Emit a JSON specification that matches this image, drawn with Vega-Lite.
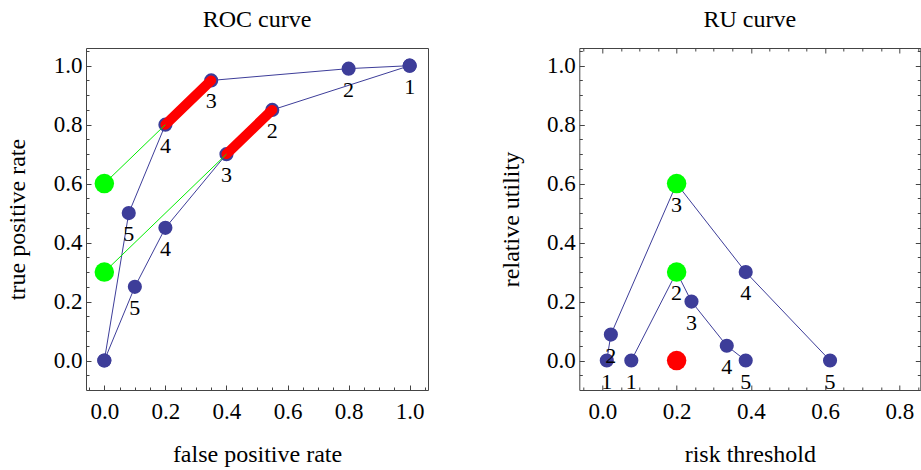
{
  "$schema": "https://vega.github.io/schema/vega-lite/v6.json",
  "padding": {"left": 5, "top": 7, "right": 0, "bottom": 0},
  "spacing": 69.3,
  "datasets": {
    "roc": [
      {"curve": "A", "ord": 1, "x": 1.0, "y": 1.0, "label": "1"},
      {"curve": "A", "ord": 2, "x": 0.8, "y": 0.99, "label": "2"},
      {"curve": "A", "ord": 3, "x": 0.35, "y": 0.95, "label": "3"},
      {"curve": "A", "ord": 4, "x": 0.2, "y": 0.8, "label": "4"},
      {"curve": "A", "ord": 5, "x": 0.08, "y": 0.5, "label": "5"},
      {"curve": "A", "ord": 6, "x": 0.0, "y": 0.0, "label": ""},
      {"curve": "B", "ord": 1, "x": 1.0, "y": 1.0, "label": ""},
      {"curve": "B", "ord": 2, "x": 0.55, "y": 0.85, "label": "2"},
      {"curve": "B", "ord": 3, "x": 0.4, "y": 0.7, "label": "3"},
      {"curve": "B", "ord": 4, "x": 0.2, "y": 0.45, "label": "4"},
      {"curve": "B", "ord": 5, "x": 0.1, "y": 0.25, "label": "5"},
      {"curve": "B", "ord": 6, "x": 0.0, "y": 0.0, "label": ""}
    ],
    "rocRed": [
      {"seg": "A", "x": 0.2, "y": 0.8},
      {"seg": "A", "x": 0.35, "y": 0.95},
      {"seg": "B", "x": 0.4, "y": 0.7},
      {"seg": "B", "x": 0.55, "y": 0.85}
    ],
    "rocGreenLine": [
      {"seg": "A", "x": 0.0, "y": 0.6},
      {"seg": "A", "x": 0.2, "y": 0.8},
      {"seg": "B", "x": 0.0, "y": 0.3},
      {"seg": "B", "x": 0.4, "y": 0.7}
    ],
    "rocGreenPts": [
      {"x": 0.0, "y": 0.6},
      {"x": 0.0, "y": 0.3}
    ],
    "ru": [
      {"curve": "A", "ord": 1, "x": 0.012, "y": 0.0, "label": "1"},
      {"curve": "A", "ord": 2, "x": 0.023, "y": 0.088, "label": "2"},
      {"curve": "A", "ord": 3, "x": 0.2, "y": 0.6, "label": "3"},
      {"curve": "A", "ord": 4, "x": 0.386, "y": 0.3, "label": "4"},
      {"curve": "A", "ord": 5, "x": 0.613, "y": 0.0, "label": "5"},
      {"curve": "B", "ord": 1, "x": 0.078, "y": 0.0, "label": "1"},
      {"curve": "B", "ord": 2, "x": 0.2, "y": 0.3, "label": "2"},
      {"curve": "B", "ord": 3, "x": 0.24, "y": 0.2, "label": "3"},
      {"curve": "B", "ord": 4, "x": 0.335, "y": 0.05, "label": "4"},
      {"curve": "B", "ord": 5, "x": 0.386, "y": 0.0, "label": "5"}
    ],
    "ruGreen": [
      {"x": 0.2, "y": 0.6},
      {"x": 0.2, "y": 0.3}
    ],
    "ruRed": [
      {"x": 0.2, "y": 0.0}
    ]
  },
  "hconcat": [
    {
      "title": {"text": "ROC curve", "frame": "group", "baseline": "alphabetic", "offset": -3},
      "width": 342,
      "height": 342,
      "resolve": {"axis": {"x": "independent", "y": "independent"}},
      "layer": [
        {
          "data": {"name": "roc"},
          "mark": {"type": "line", "color": "#3d3d99", "strokeWidth": 1},
          "encoding": {
            "x": {"field": "x", "type": "quantitative", "scale": {"domain": [-0.06, 1.06], "nice": false, "zero": false},
                  "axis": {"orient": "bottom", "values": [0, 0.2, 0.4, 0.6, 0.8, 1.0], "format": ".1f", "title": "false positive rate", "tickSize": -5, "labelPadding": 15.5, "titlePadding": 19}},
            "y": {"field": "y", "type": "quantitative", "scale": {"domain": [-0.1, 1.06], "nice": false, "zero": false},
                  "axis": {"orient": "left", "values": [0, 0.2, 0.4, 0.6, 0.8, 1.0], "format": ".1f", "title": "true positive rate", "tickSize": -5, "labelPadding": 9, "titlePadding": 23.5}},
            "detail": {"field": "curve"},
            "order": {"field": "ord", "type": "quantitative"}
          }
        },
        {
          "data": {"name": "roc"},
          "mark": {"type": "circle", "color": "#3d3d99", "size": 200, "opacity": 1},
          "encoding": {
            "x": {"field": "x", "type": "quantitative", "axis": null},
            "y": {"field": "y", "type": "quantitative", "axis": null}
          }
        },
        {
          "data": {"name": "rocRed"},
          "mark": {"type": "line", "color": "#ff0000", "strokeWidth": 10, "strokeCap": "round"},
          "encoding": {
            "x": {"field": "x", "type": "quantitative", "axis": null},
            "y": {"field": "y", "type": "quantitative", "axis": null},
            "detail": {"field": "seg"}
          }
        },
        {
          "data": {"name": "rocGreenLine"},
          "mark": {"type": "line", "color": "#00ee00", "strokeWidth": 1},
          "encoding": {
            "x": {"field": "x", "type": "quantitative", "axis": null},
            "y": {"field": "y", "type": "quantitative", "axis": null},
            "detail": {"field": "seg"}
          }
        },
        {
          "data": {"name": "rocGreenPts"},
          "mark": {"type": "circle", "color": "#00ff00", "size": 380, "opacity": 1},
          "encoding": {
            "x": {"field": "x", "type": "quantitative", "axis": null},
            "y": {"field": "y", "type": "quantitative", "axis": null}
          }
        },
        {
          "data": {"name": "roc"},
          "mark": {"type": "text", "dy": 21, "fontSize": 22, "color": "black", "align": "center", "baseline": "middle", "font": "Liberation Serif"},
          "encoding": {
            "x": {"field": "x", "type": "quantitative", "axis": null},
            "y": {"field": "y", "type": "quantitative", "axis": null},
            "text": {"field": "label"}
          }
        },
        {
          "data": {"name": "roc"},
          "mark": {"type": "circle", "opacity": 0},
          "encoding": {
            "x": {"field": "x", "type": "quantitative",
                  "axis": {"orient": "bottom", "values": [-0.05, 0.05, 0.1, 0.15, 0.25, 0.3, 0.35, 0.45, 0.5, 0.55, 0.65, 0.7, 0.75, 0.85, 0.9, 0.95, 1.05], "labels": false, "title": null, "tickSize": -3}},
            "y": {"field": "y", "type": "quantitative",
                  "axis": {"orient": "left", "values": [-0.05, 0.05, 0.1, 0.15, 0.25, 0.3, 0.35, 0.45, 0.5, 0.55, 0.65, 0.7, 0.75, 0.85, 0.9, 0.95, 1.05], "labels": false, "title": null, "tickSize": -3}}
          }
        }
      ]
    },
    {
      "title": {"text": "RU curve", "frame": "group", "baseline": "alphabetic", "offset": -3},
      "width": 341,
      "height": 342,
      "resolve": {"axis": {"x": "independent", "y": "independent"}},
      "layer": [
        {
          "data": {"name": "ru"},
          "mark": {"type": "line", "color": "#3d3d99", "strokeWidth": 1},
          "encoding": {
            "x": {"field": "x", "type": "quantitative", "scale": {"domain": [-0.062, 0.856], "nice": false, "zero": false},
                  "axis": {"orient": "bottom", "values": [0, 0.2, 0.4, 0.6, 0.8], "format": ".1f", "title": "risk threshold", "tickSize": -5, "labelPadding": 15.5, "titlePadding": 19}},
            "y": {"field": "y", "type": "quantitative", "scale": {"domain": [-0.1, 1.06], "nice": false, "zero": false},
                  "axis": {"orient": "left", "values": [0, 0.2, 0.4, 0.6, 0.8, 1.0], "format": ".1f", "title": "relative utility", "tickSize": -5, "labelPadding": 9, "titlePadding": 23.5}},
            "detail": {"field": "curve"},
            "order": {"field": "ord", "type": "quantitative"}
          }
        },
        {
          "data": {"name": "ru"},
          "mark": {"type": "circle", "color": "#3d3d99", "size": 200, "opacity": 1},
          "encoding": {
            "x": {"field": "x", "type": "quantitative", "axis": null},
            "y": {"field": "y", "type": "quantitative", "axis": null}
          }
        },
        {
          "data": {"name": "ruGreen"},
          "mark": {"type": "circle", "color": "#00ff00", "size": 380, "opacity": 1},
          "encoding": {
            "x": {"field": "x", "type": "quantitative", "axis": null},
            "y": {"field": "y", "type": "quantitative", "axis": null}
          }
        },
        {
          "data": {"name": "ruRed"},
          "mark": {"type": "circle", "color": "#ff0000", "size": 380, "opacity": 1},
          "encoding": {
            "x": {"field": "x", "type": "quantitative", "axis": null},
            "y": {"field": "y", "type": "quantitative", "axis": null}
          }
        },
        {
          "data": {"name": "ru"},
          "mark": {"type": "text", "dy": 21, "fontSize": 22, "color": "black", "align": "center", "baseline": "middle", "font": "Liberation Serif"},
          "encoding": {
            "x": {"field": "x", "type": "quantitative", "axis": null},
            "y": {"field": "y", "type": "quantitative", "axis": null},
            "text": {"field": "label"}
          }
        },
        {
          "data": {"name": "ru"},
          "mark": {"type": "circle", "opacity": 0},
          "encoding": {
            "x": {"field": "x", "type": "quantitative",
                  "axis": {"orient": "bottom", "values": [-0.05, 0.05, 0.1, 0.15, 0.25, 0.3, 0.35, 0.45, 0.5, 0.55, 0.65, 0.7, 0.75, 0.85], "labels": false, "title": null, "tickSize": -3}},
            "y": {"field": "y", "type": "quantitative",
                  "axis": {"orient": "left", "values": [-0.05, 0.05, 0.1, 0.15, 0.25, 0.3, 0.35, 0.45, 0.5, 0.55, 0.65, 0.7, 0.75, 0.85, 0.9, 0.95, 1.05], "labels": false, "title": null, "tickSize": -3}}
          }
        },
        {
          "data": {"name": "ru"},
          "mark": {"type": "circle", "opacity": 0},
          "encoding": {
            "x": {"field": "x", "type": "quantitative",
                  "axis": {"orient": "top", "values": [0, 0.2, 0.4, 0.6, 0.8], "labels": false, "title": null, "tickSize": -5}},
            "y": {"field": "y", "type": "quantitative",
                  "axis": {"orient": "right", "values": [0, 0.2, 0.4, 0.6, 0.8, 1.0], "labels": false, "title": null, "tickSize": -5}}
          }
        },
        {
          "data": {"name": "ru"},
          "mark": {"type": "circle", "opacity": 0},
          "encoding": {
            "x": {"field": "x", "type": "quantitative",
                  "axis": {"orient": "top", "values": [-0.05, 0.05, 0.1, 0.15, 0.25, 0.3, 0.35, 0.45, 0.5, 0.55, 0.65, 0.7, 0.75, 0.85], "labels": false, "title": null, "tickSize": -3}},
            "y": {"field": "y", "type": "quantitative",
                  "axis": {"orient": "right", "values": [-0.05, 0.05, 0.1, 0.15, 0.25, 0.3, 0.35, 0.45, 0.5, 0.55, 0.65, 0.7, 0.75, 0.85, 0.9, 0.95, 1.05], "labels": false, "title": null, "tickSize": -3}}
          }
        }
      ]
    }
  ],
  "config": {
    "font": "Liberation Serif",
    "view": {"stroke": "#444444", "strokeWidth": 1},
    "axis": {
      "domain": false, "grid": false,
      "labelFont": "Liberation Serif", "labelFontSize": 23, "labelColor": "black",
      "titleFont": "Liberation Serif", "titleFontSize": 24, "titleFontWeight": "normal", "titleColor": "black",
      "tickColor": "#444444", "tickWidth": 1
    },
    "title": {"font": "Liberation Serif", "fontSize": 24, "fontWeight": "normal", "color": "black"}
  }
}
